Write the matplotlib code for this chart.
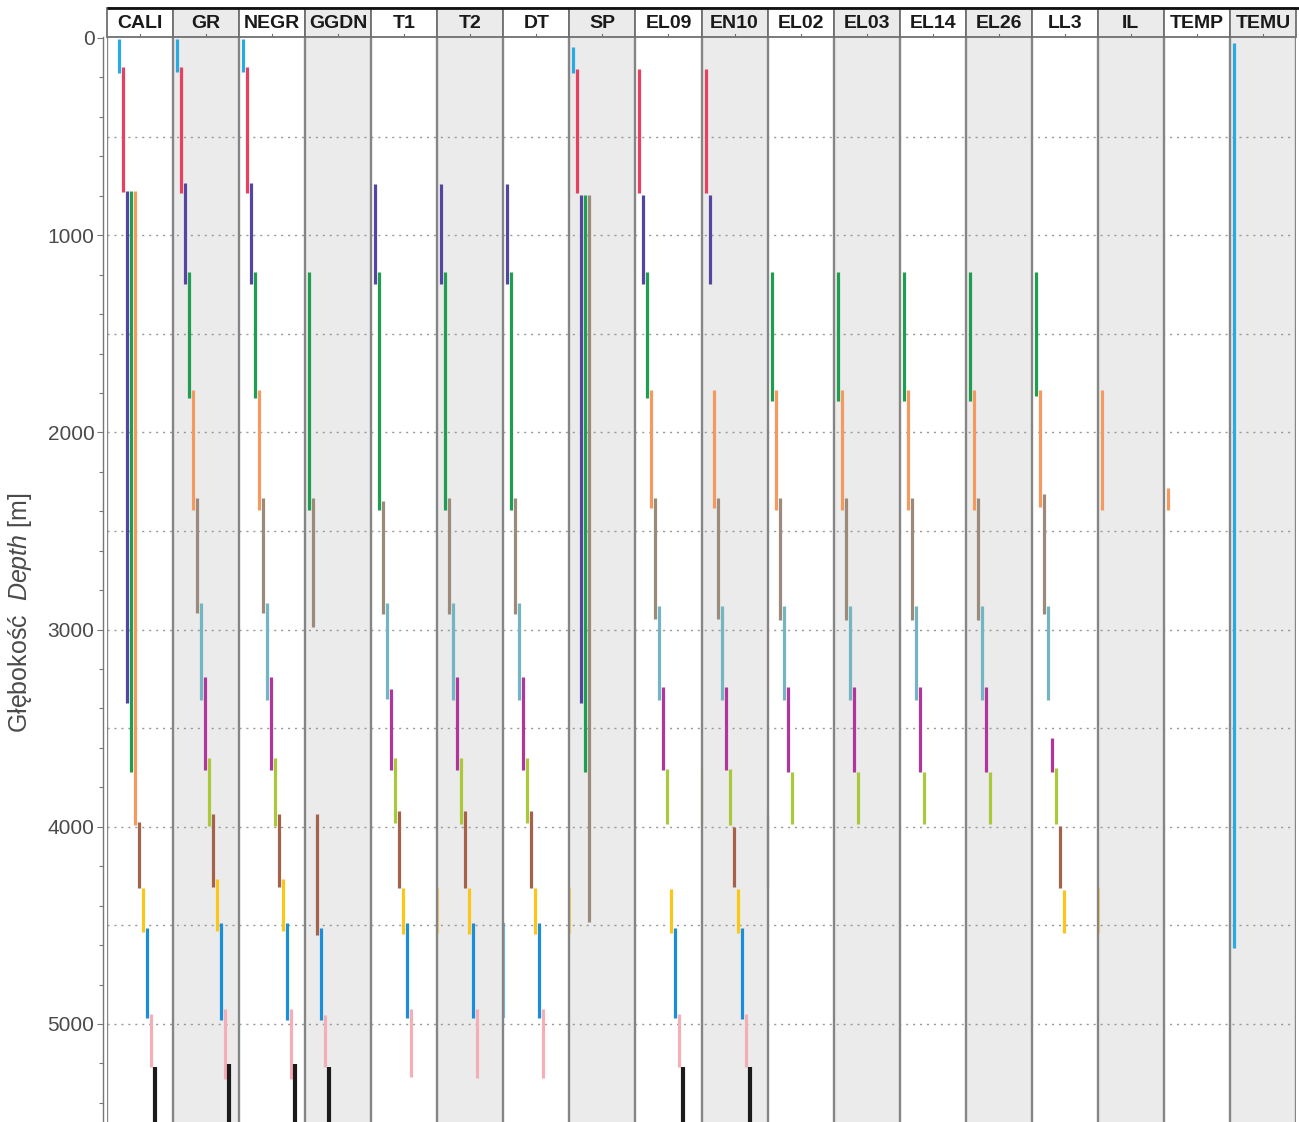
import matplotlib
matplotlib.use("Agg")
import matplotlib.pyplot as plt
from matplotlib.patches import Rectangle

plt.rcParams['font.family'] = ['Liberation Sans', 'DejaVu Sans']
plt.rcParams['mathtext.fontset'] = 'custom'
plt.rcParams['mathtext.it'] = 'Liberation Sans:italic'
plt.rcParams['mathtext.rm'] = 'Liberation Sans'

# log names, one track each
tracks = ["CALI", "GR", "NEGR", "GGDN", "T1", "T2", "DT", "SP", "EL09", "EN10",
          "EL02", "EL03", "EL14", "EL26", "LL3", "IL", "TEMP", "TEMU"]

# colour of each logging run
run_colors = {
    "sky": "#29ABE2", "red": "#E8415F", "indigo": "#54469E", "green": "#1E9E50",
    "orange": "#F59A5F", "taupe": "#9C8A7A", "teal": "#72B6C4", "magenta": "#B0369C",
    "lime": "#A9C93A", "brown": "#A5614A", "gold": "#FBC51B", "blue": "#1A8ED8",
    "pink": "#F4AEB8", "black": "#1B1B1B",
}

# depth intervals [m] logged in each run: (run, top, bottom)
cali = [("sky", 5, 178), ("red", 147, 783), ("indigo", 775, 3370), ("green", 775, 3722),
        ("orange", 775, 3990), ("brown", 3975, 4310), ("gold", 4310, 4533),
        ("blue", 4513, 4970), ("pink", 4950, 5218), ("black", 5218, 5500)]
gr = [("sky", 5, 172), ("red", 147, 786), ("indigo", 735, 1247), ("green", 1187, 1826),
      ("orange", 1785, 2394), ("taupe", 2333, 2916), ("teal", 2865, 3357),
      ("magenta", 3240, 3712), ("lime", 3651, 3996), ("brown", 3935, 4305),
      ("gold", 4265, 4528), ("blue", 4488, 4980), ("pink", 4924, 5279), ("black", 5203, 5500)]
negr = [("sky", 5, 172), ("red", 147, 786), ("indigo", 735, 1247), ("green", 1187, 1826),
        ("orange", 1785, 2394), ("taupe", 2333, 2916), ("teal", 2865, 3357),
        ("magenta", 3240, 3712), ("lime", 3651, 3996), ("brown", 3935, 4305),
        ("gold", 4265, 4528), ("blue", 4488, 4980), ("pink", 4924, 5279), ("black", 5203, 5500)]
ggdn = [("green", 1187, 2394), ("taupe", 2333, 2987), ("brown", 3935, 4550),
        ("blue", 4513, 4980), ("pink", 4954, 5218), ("black", 5218, 5500)]
t1 = [("indigo", 740, 1247), ("green", 1187, 2394), ("taupe", 2350, 2920),
      ("teal", 2865, 3350), ("magenta", 3300, 3712), ("lime", 3651, 3980),
      ("brown", 3920, 4310), ("gold", 4310, 4543), ("blue", 4488, 4970), ("pink", 4924, 5269)]
t2 = [("indigo", 740, 1247), ("green", 1187, 2394), ("taupe", 2333, 2920),
      ("teal", 2865, 3357), ("magenta", 3240, 3712), ("lime", 3651, 3985),
      ("brown", 3920, 4310), ("gold", 4310, 4543), ("blue", 4488, 4970), ("pink", 4924, 5275)]
dt = [("indigo", 740, 1247), ("green", 1187, 2394), ("taupe", 2333, 2920),
      ("teal", 2865, 3357), ("magenta", 3240, 3712), ("lime", 3651, 3980),
      ("brown", 3920, 4310), ("gold", 4310, 4543), ("blue", 4488, 4970), ("pink", 4924, 5275)]
sp = [("sky", 45, 178), ("red", 155, 786), ("indigo", 795, 3370), ("green", 795, 3722),
      ("taupe", 795, 4483)]
el09 = [("red", 155, 786), ("indigo", 795, 1247), ("green", 1187, 1826),
        ("orange", 1785, 2385), ("taupe", 2333, 2945), ("teal", 2880, 3357),
        ("magenta", 3290, 3712), ("lime", 3707, 3986), ("gold", 4315, 4538),
        ("blue", 4513, 4970), ("pink", 4950, 5218), ("black", 5218, 5500)]
en10 = [("red", 155, 786), ("indigo", 795, 1247), ("orange", 1785, 2385),
        ("taupe", 2333, 2945), ("teal", 2880, 3357), ("magenta", 3290, 3712),
        ("lime", 3707, 3990), ("brown", 4000, 4305), ("gold", 4315, 4538),
        ("blue", 4513, 4975), ("pink", 4950, 5218), ("black", 5218, 5500)]
el02 = [("green", 1187, 1840), ("orange", 1785, 2394), ("taupe", 2333, 2950),
        ("teal", 2880, 3357), ("magenta", 3290, 3722), ("lime", 3722, 3985)]
el03 = [("green", 1187, 1840), ("orange", 1785, 2394), ("taupe", 2333, 2950),
        ("teal", 2880, 3357), ("magenta", 3290, 3722), ("lime", 3722, 3985)]
el14 = [("green", 1187, 1840), ("orange", 1785, 2394), ("taupe", 2333, 2950),
        ("teal", 2880, 3357), ("magenta", 3290, 3722), ("lime", 3722, 3985)]
el26 = [("green", 1187, 1840), ("orange", 1785, 2394), ("taupe", 2333, 2950),
        ("teal", 2880, 3357), ("magenta", 3290, 3722), ("lime", 3722, 3985)]
ll3 = [("green", 1187, 1815), ("orange", 1785, 2380), ("taupe", 2310, 2920),
       ("teal", 2880, 3357), ("magenta", 3550, 3722), ("lime", 3700, 3986),
       ("brown", 3996, 4310), ("gold", 4320, 4538)]
il = [("orange", 1785, 2394)]
temp = [("orange", 2280, 2394)]
temu = [("sky", 25, 4615)]

track_runs = [cali, gr, negr, ggdn, t1, t2, dt, sp, el09, en10,
              el02, el03, el14, el26, ll3, il, temp, temu]

# short runs sitting right on a track's left border: (track, run, top, bottom)
edge_runs = [("T2", "gold", 4310, 4543), ("DT", "blue", 4488, 4970),
             ("SP", "gold", 4310, 4543), ("EN10", "lime", 3707, 3990),
             ("EL02", "brown", 3940, 4305), ("IL", "gold", 4310, 4543)]

W, H = 1299, 1122
fig = plt.figure(figsize=(W / 100, H / 100), dpi=100)

left_px, right_px = 107, 1296
head_top, head_bot = 8, 37
x0 = left_px / W
wdt = (right_px - left_px) / W

shade = "#EBEBEB"
border = "#858585"
n = len(tracks)

# log tracks
ax = fig.add_axes([x0, 0, wdt, (H - head_bot) / H])
ax.set_xlim(0, n)
ax.set_ylim(5497, -5)
for i in range(n):
    if i % 2 == 1:
        ax.axvspan(i, i + 1, color=shade, lw=0, zorder=0)
for d in range(500, 5500, 500):
    ax.axhline(d, color="#999999", lw=1.0, ls=(0, (1.5, 3.5)), zorder=1)

lane0 = 4 / 66
lane = 4 / 66
for i, runs in enumerate(track_runs):
    start = lane0 + (2 * lane if tracks[i] == "CALI" else 0)
    for k, (name, top, bot) in enumerate(runs):
        lw = 3.0 if name == "black" else 2.3
        ax.plot([i + start + k * lane] * 2, [top, bot], color=run_colors[name],
                lw=lw, solid_capstyle="butt", zorder=3)
for tname, name, top, bot in edge_runs:
    i = tracks.index(tname)
    ax.plot([i + 0.012] * 2, [top, bot], color=run_colors[name], lw=1.6,
            alpha=0.6, solid_capstyle="butt", zorder=2)

for i in range(n + 1):
    ax.axvline(i, color=border, lw=1.7, zorder=4)

for s in ["top", "right", "bottom"]:
    ax.spines[s].set_visible(False)
ax.spines["left"].set_position(("outward", 3))
ax.spines["left"].set_color("#777777")
ax.spines["left"].set_linewidth(1.0)
ax.set_xticks([])
ax.set_yticks(range(0, 5001, 1000))
ax.set_yticks(range(0, 5500, 200), minor=True)
ax.tick_params(axis="y", which="major", length=4, width=0.8, color="#777777",
               labelsize=15, labelcolor="#4a4a4a", pad=2)
ax.tick_params(axis="y", which="minor", length=3, width=0.8, color="#777777")

fig.text(20 / W, 1 - 613 / H, r"Głębokość  $\it{Depth}$ [m]", rotation=90,
         ha="center", va="center", fontsize=18, color="#4a4a4a")

# header row with track names
hax = fig.add_axes([x0, 1 - head_bot / H, wdt, (head_bot - head_top) / H])
hax.set_xlim(0, n)
hax.set_ylim(0, 1)
hax.axis("off")
for i, name in enumerate(tracks):
    hax.add_patch(Rectangle((i, 0), 1, 1, facecolor=shade if i % 2 else "white",
                            edgecolor="#6f6f6f", lw=1.3, clip_on=False))
    hax.text(i + 0.5, 0.48, name, ha="center", va="center", fontsize=14,
             fontweight="bold", color="#1a1a1a")
    hax.plot([i + 0.5, i + 0.5], [0, 0.1], color="#6f6f6f", lw=0.8)
hax.plot([0, (W - left_px) / (right_px - left_px) * n], [1, 1], color="#111111",
         lw=2.0, clip_on=False, solid_capstyle="butt")

fig.savefig("out.png", dpi=100)
